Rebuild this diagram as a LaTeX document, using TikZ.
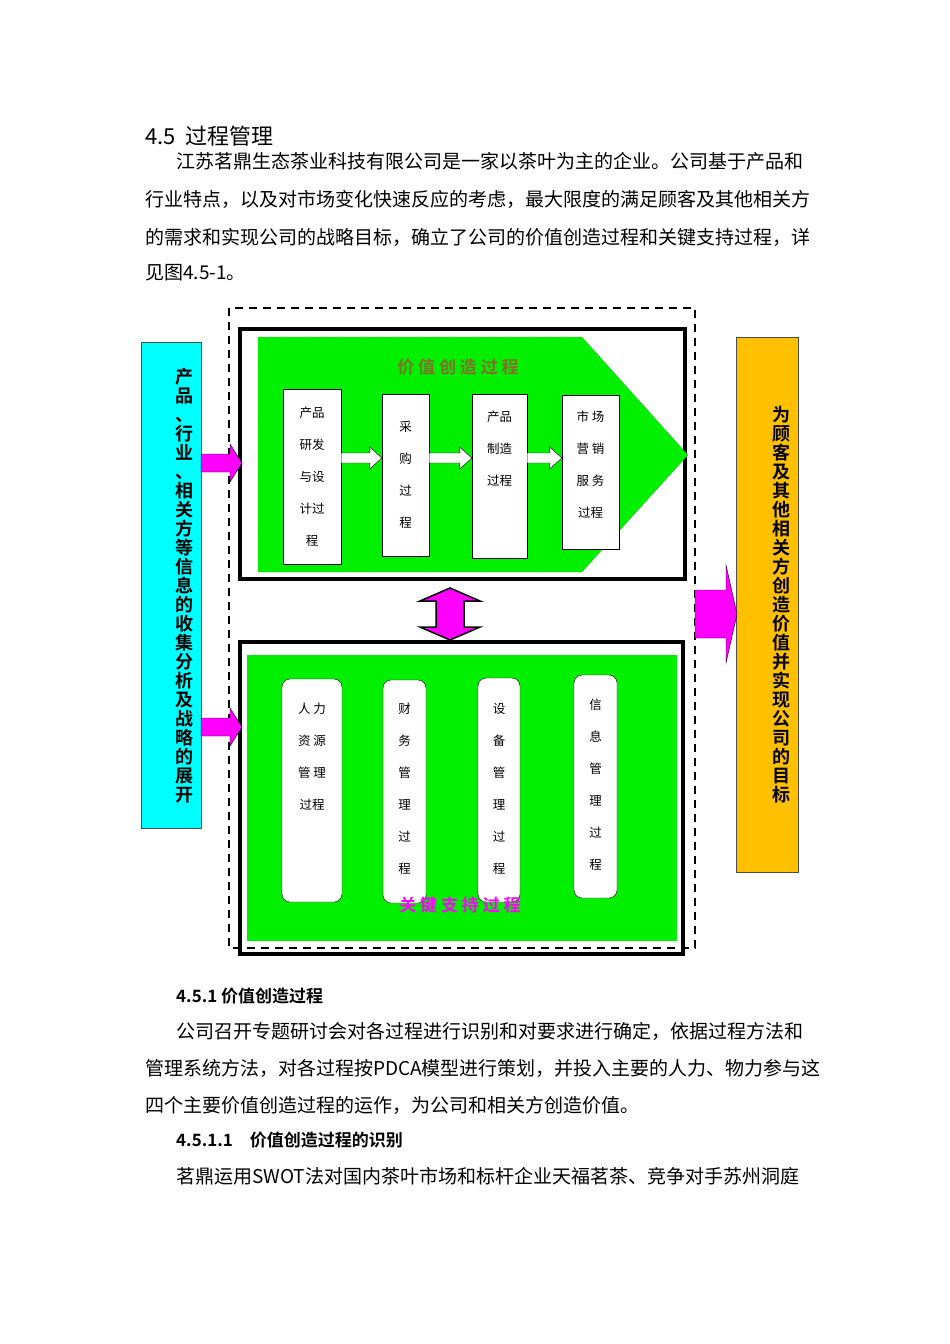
\documentclass[tikz,border=0pt]{standalone}
\usepackage{fontspec}
\usetikzlibrary{calc}
\setmainfont{Noto Sans CJK SC}
\newfontfamily\cjkb{Noto Sans CJK SC Bold}
\definecolor{mg}{RGB}{255,0,255}
\definecolor{gr}{RGB}{0,240,0}
\definecolor{cy}{RGB}{0,255,255}
\definecolor{og}{RGB}{255,192,0}
\definecolor{ol}{RGB}{130,110,40}
\begin{document}
\begin{tikzpicture}[x=1pt,y=-1pt,
  body/.style={anchor=west,inner sep=0pt,font=\fontsize{19}{19}\selectfont},
  wbox/.style={draw=black,fill=white,thin,inner sep=0pt},
  rbox/.style={draw=black,fill=white,thin,rounded corners=8pt},
  btxt/.style={inner sep=0pt,align=center,font=\fontsize{12.5}{32}\selectfont},
  mgarrow/.style={fill=mg,draw=black,thin},
  vtxt/.style={inner sep=0pt,align=center,font=\cjkb\fontsize{18}{19}\selectfont}]
\useasboundingbox (0,0) rectangle (950,1344);
\fill[white] (0,0) rectangle (950,1344);
% heading text
\node[body,font=\fontsize{22}{22}\selectfont] (h) at (145,136) {4.5\ \ 过程管理};
\node[body] (l1) at (176,161) {江苏茗鼎生态茶业科技有限公司是一家以茶叶为主的企业。公司基于产品和};
\node[body] (l2) at (145,199) {行业特点，以及对市场变化快速反应的考虑，最大限度的满足顾客及其他相关方};
\node[body] (l3) at (145,237) {的需求和实现公司的战略目标，确立了公司的价值创造过程和关键支持过程，详};
\node[body] (l4) at (145,273) {见图4.5-1。};
% frames
\draw[dashed,line width=1.6pt,dash pattern=on 8pt off 6pt] (229,308) rectangle (695,948);
\draw[line width=3.5pt] (240,329) rectangle (685,579);
\draw[line width=3.5pt] (240,642) rectangle (683,954);
% top green pentagon
\fill[gr,draw=black!60,densely dotted] (258,337) -- (582,337) -- (688,455) -- (582,572) -- (258,572) -- cycle;
\node[inner sep=0pt,text=ol,font=\cjkb\fontsize{17}{17}\selectfont] (t1) at (458,367) {价\ 值\ 创\ 造\ 过\ 程};
\node[wbox,minimum width=58pt,minimum height=175pt] (b1) at (312,476.5) {};
\node[btxt] at (b1) {产品\\研发\\与设\\计过\\程};
\node[wbox,minimum width=47pt,minimum height=162pt] (b2) at (405.5,475) {};
\node[btxt] at (b2) {采\\购\\过\\程};
\node[wbox,minimum width=55pt,minimum height=164pt] (b3) at (499.5,476) {};
\node[btxt,anchor=north] at (499.5,411) {产品\\制造\\过程};
\node[wbox,minimum width=57pt,minimum height=154pt] (b4) at (590.5,472) {};
\node[btxt,anchor=north] at (590.5,411) {市 场\\营 销\\服 务\\过程};
\foreach \a/\b in {b1/b2,b2/b3,b3/b4}{
  \path (\a.east |- 0,458) coordinate (s) (\b.west |- 0,458) coordinate (e);
  \draw[fill=white,thin] ($(s)+(0,-5)$) -- ($(e)+(-12,-5)$) -- ($(e)+(-12,-11)$) -- (e) -- ($(e)+(-12,11)$) -- ($(e)+(-12,5)$) -- ($(s)+(0,5)$) -- cycle;
}
% bottom green
\fill[gr] (247,655) rectangle (677,941);
\node[rbox,minimum width=60pt,minimum height=223pt] (c1) at (312,790.5) {};
\node[btxt,anchor=north] at (312,703) {人 力\\资 源\\管 理\\过程};
\node[rbox,minimum width=43pt,minimum height=223pt] (c2) at (404.5,791.5) {};
\node[btxt,anchor=north] at (404.5,703) {财\\务\\管\\理\\过\\程};
\node[rbox,minimum width=42pt,minimum height=224pt] (c3) at (499,790) {};
\node[btxt,anchor=north] at (499,703) {设\\备\\管\\理\\过\\程};
\node[rbox,minimum width=43pt,minimum height=223pt] (c4) at (595.5,786.5) {};
\node[btxt,anchor=north] at (595.5,699) {信\\息\\管\\理\\过\\程};
\node[inner sep=0pt,text=mg,font=\cjkb\fontsize{17}{17}\selectfont] (t2) at (460,905) {关\ 键\ 支\ 持\ 过\ 程};
% double arrow
\draw[mgarrow,line width=1.5pt] (450,588) -- (480,601) -- (464,601) -- (464,627) -- (480,627) -- (450,640) -- (420,627) -- (436,627) -- (436,601) -- (420,601) -- cycle;
% cyan box
\node[draw=black!70,fill=cy,minimum width=60pt,minimum height=486pt,inner sep=0pt] (cyb) at (171,585) {};
\node[vtxt] at (184,586) {产\\品\\、\\行\\业\\、\\相\\关\\方\\等\\信\\息\\的\\收\\集\\分\\析\\及\\战\\略\\的\\展\\开};
% orange box
\node[draw=black!70,fill=og,minimum width=62pt,minimum height=535pt,inner sep=0pt] (ogb) at (767,604.5) {};
\node[vtxt] at (781,605) {为\\顾\\客\\及\\其\\他\\相\\关\\方\\创\\造\\价\\值\\并\\实\\现\\公\\司\\的\\目\\标};
% magenta arrows
\foreach \yy in {463,727}{
  \draw[mgarrow] (201,\yy-9) -- (230,\yy-9) -- (230,\yy-19) -- (242,\yy) -- (230,\yy+19) -- (230,\yy+9) -- (201,\yy+9) -- cycle;
}
\draw[mgarrow] (695,590) -- (726,590) -- (726,565) -- (737,614) -- (726,663) -- (726,638) -- (695,638) -- cycle;
% lower text
\node[body,font=\cjkb\fontsize{17}{17}\selectfont] (s1) at (176,996) {4.5.1\ 价值创造过程};
\node[body] (m1) at (176,1031) {公司召开专题研讨会对各过程进行识别和对要求进行确定，依据过程方法和};
\node[body] (m2) at (145,1068) {管理系统方法，对各过程按PDCA模型进行策划，并投入主要的人力、物力参与这};
\node[body] (m3) at (145,1105) {四个主要价值创造过程的运作，为公司和相关方创造价值。};
\node[body,font=\cjkb\fontsize{17}{17}\selectfont] (s2) at (176,1140) {4.5.1.1\quad 价值创造过程的识别};
\node[body] (m4) at (176,1176) {茗鼎运用SWOT法对国内茶叶市场和标杆企业天福茗茶、竞争对手苏州洞庭};
\end{tikzpicture}
\end{document}
